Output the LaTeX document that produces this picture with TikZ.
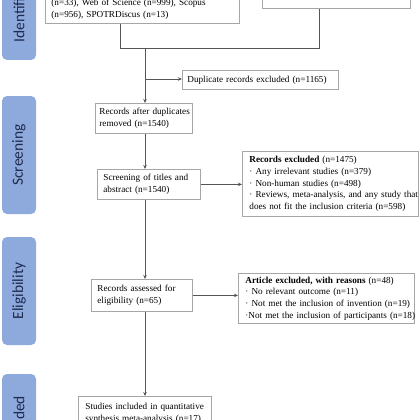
\documentclass[tikz,border=0pt]{standalone}
\usepackage{fontspec}
\setmainfont{Liberation Serif}
\newfontfamily\sidefont{Carlito}
\usetikzlibrary{arrows.meta}
\definecolor{sidefill}{HTML}{8EA9DB}
\definecolor{sidetext}{HTML}{1F2A4F}
\definecolor{boxline}{HTML}{A6A6A6}
\definecolor{conn}{HTML}{555555}
\begin{document}
\begin{tikzpicture}[x=1pt,y=-1pt,
  box/.style={draw=boxline,line width=0.8pt,fill=white,inner ysep=1pt,align=left,
    font=\fontsize{9.2}{11.7}\selectfont,anchor=north west},
  side/.style={fill=sidefill,rounded corners=5pt,rotate=90,
    font=\sidefont\fontsize{15.5}{18}\selectfont,text=sidetext,minimum height=34pt,inner sep=0pt},
  ln/.style={draw=conn,line width=0.7pt},
  arr/.style={draw=conn,line width=0.7pt,-{Stealth[length=4pt,width=3.5pt]}}]
\useasboundingbox (0,0) rectangle (420,420);
\clip (0,0) rectangle (420,420);
% phase labels
\node[side,minimum width=118pt] (sId) at (19,1) {Identification};
\node[side,minimum width=118pt] (sScr) at (19,155) {Screening};
\node[side,minimum width=108pt] (sElig) at (19,291) {Eligibility};
\node[side,minimum width=98pt] (sInc) at (19,423) {Included};
% boxes
\node[box,anchor=south west,inner xsep=6pt,inner ysep=4pt,text width=182pt] (idb) at (45,24)
  {\mbox{(n=33), Web of Science (n=999), Scopus}\\\mbox{(n=956), SPOTRDiscus (n=13)}};
\node[box,anchor=south west,minimum width=148pt,minimum height=40pt] (tr) at (262,9) {};
\node[box,inner xsep=5pt,text width=146pt,minimum height=19pt] (dup) at (182,70)
  {\mbox{Duplicate records excluded (n=1165)}};
\node[box,inner xsep=4pt,text width=89pt,minimum height=30pt] (rad) at (95,103)
  {\mbox{Records after duplicates}\\\mbox{removed (n=1540)}};
\node[box,inner xsep=6pt,text width=91pt,minimum height=30pt] (scr) at (97,169)
  {\mbox{Screening of titles and}\\\mbox{abstract (n=1540)}};
\node[box,inner xsep=7pt,text width=162pt,minimum height=65pt] (exc1) at (242,151)
  {\mbox{\textbf{Records excluded} (n=1475)}\\
   \mbox{· Any irrelevant studies (n=379)}\\
   \mbox{· Non-human studies (n=498)}\\
   \mbox{· Reviews, meta-analysis, and any study that}\\
   \mbox{does not fit the inclusion criteria (n=598)}};
\node[box,inner xsep=6pt,text width=89pt,minimum height=32pt] (elig) at (91,279)
  {\mbox{Records assessed for}\\\mbox{eligibility (n=65)}};
\node[box,inner xsep=7pt,text width=162pt,minimum height=50pt] (exc2) at (238,273)
  {\mbox{\textbf{Article excluded, with reasons} (n=48)}\\
   \mbox{· No relevant outcome (n=11)}\\
   \mbox{· Not met the inclusion of invention (n=19)}\\
   \mbox{·Not met the inclusion of participants (n=18)}};
\node[box,inner xsep=7pt,text width=119pt,minimum height=34pt] (incl) at (78,396)
  {\mbox{Studies included in quantitative}\\\mbox{synthesis meta-analysis (n=17)}};
% connectors
\coordinate (sp) at (145,0);
\coordinate (j1) at (120,48);
\coordinate (j2) at (319,48);
\coordinate (j3) at (145,48);
\coordinate (j4) at (145,79);
\draw[ln] (idb.south -| j1) -- (j1) -- (j2) -- (tr.south -| j2);
\draw[arr] (j3) -- (rad.north -| j3);
\draw[arr] (j4) -- (j4 -| dup.west);
\draw[arr] (rad.south -| sp) -- (scr.north -| sp);
\draw[arr] (scr.east) -- (scr.east -| exc1.west);
\draw[arr] (scr.south -| sp) -- (elig.north -| sp);
\draw[arr] (elig.east) -- (elig.east -| exc2.west);
\draw[arr] (elig.south -| sp) -- (incl.north -| sp);
\end{tikzpicture}
\end{document}
